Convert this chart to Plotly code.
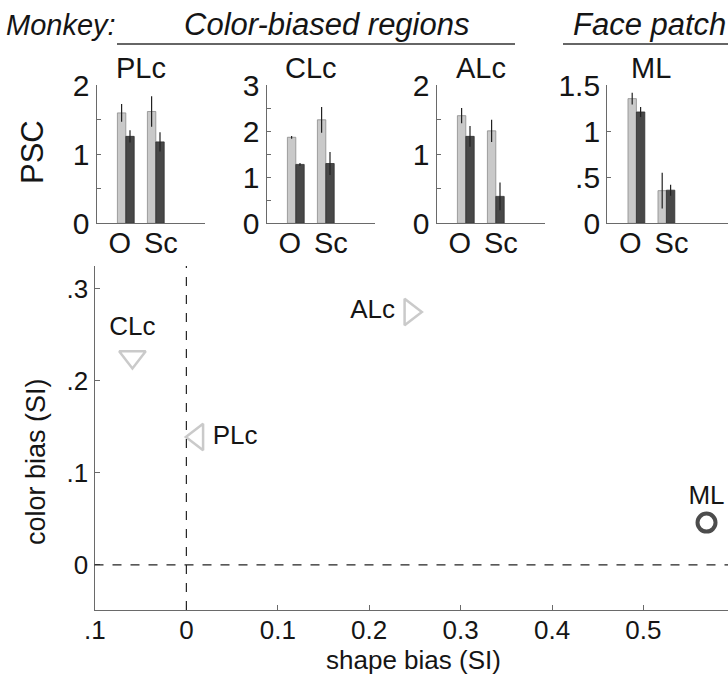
import plotly.graph_objects as go

# ---------------- data ----------------
conditions = ["O", "Sc"]
cond_pos = [1, 2]

plc_light = [1.60, 1.62]
plc_light_err = [0.13, 0.22]
plc_dark = [1.26, 1.18]
plc_dark_err = [0.09, 0.14]

clc_light = [1.87, 2.25]
clc_light_err = [0.03, 0.28]
clc_dark = [1.28, 1.30]
clc_dark_err = [0.03, 0.25]

alc_light = [1.56, 1.34]
alc_light_err = [0.11, 0.16]
alc_dark = [1.26, 0.39]
alc_dark_err = [0.15, 0.20]

ml_light = [1.355, 0.355]
ml_light_err = [0.065, 0.195]
ml_dark = [1.21, 0.36]
ml_dark_err = [0.055, 0.06]

panel_names = ["PLc", "CLc", "ALc", "ML"]
panel_ymax = [2, 3, 2, 1.5]
panel_tickvals = [[0, 0.5, 1, 1.5, 2], [0, 0.5, 1, 1.5, 2, 2.5, 3],
                  [0, 0.5, 1, 1.5, 2], [0, 0.5, 1, 1.5]]
panel_ticktext = [["0", "", "1", "", "2"], ["0", "", "1", "", "2", "", "3"],
                  ["0", "", "1", "", "2"], ["0", ".5", "1", "1.5"]]

scatter_labels = ["CLc", "PLc", "ALc", "ML"]
shape_bias = [-0.059, 0.012, 0.245, 0.569]
color_bias = [0.226, 0.139, 0.275, 0.046]

x_tickvals = [-0.1, 0, 0.1, 0.2, 0.3, 0.4, 0.5]
x_ticktext = [".1", "0", "0.1", "0.2", "0.3", "0.4", "0.5"]
y_tickvals = [0, 0.1, 0.2, 0.3]
y_ticktext = ["0", ".1", ".2", ".3"]

# ---------------- layout helpers ----------------
W, H = 728, 675
FONT = "Liberation Sans, Arial, sans-serif"
TXT = "#151515"
AX = "#6a6a6a"

def px_x(p):
    return p / W

def px_y(p):
    return 1 - p / H

light_sets = [(plc_light, plc_light_err), (clc_light, clc_light_err),
              (alc_light, alc_light_err), (ml_light, ml_light_err)]
dark_sets = [(plc_dark, plc_dark_err), (clc_dark, clc_dark_err),
             (alc_dark, alc_dark_err), (ml_dark, ml_dark_err)]

panel_left = [96.7, 266.7, 436.7, 607.3]
panel_range = [[0.03, 3.65], [0.03, 3.65], [0.03, 3.65], [0.03, 4.05]]
unit_px = 30.0
bar_w = 0.28
label_shift = [-0.2, 0.17]

fig = go.Figure()
layout = {}
annotations = []

for i, name in enumerate(panel_names):
    k = i + 2
    xa, ya = f"x{k}", f"y{k}"
    lv, le = light_sets[i]
    dv, de = dark_sets[i]
    fig.add_trace(go.Bar(x=cond_pos, y=lv, width=bar_w, offset=-bar_w,
                         marker=dict(color="#c9c9c9", line=dict(color="#8a8a8a", width=0.8)),
                         error_y=dict(type="data", array=le, visible=True, thickness=1.2, width=0, color="#222"),
                         xaxis=xa, yaxis=ya, showlegend=False))
    fig.add_trace(go.Bar(x=cond_pos, y=dv, width=bar_w, offset=0,
                         marker=dict(color="#484848", line=dict(color="#303030", width=0.8)),
                         error_y=dict(type="data", array=de, visible=True, thickness=1.2, width=0, color="#222"),
                         xaxis=xa, yaxis=ya, showlegend=False))
    r0, r1 = panel_range[i]
    L = panel_left[i]
    R = min(W, L + (r1 - r0) * unit_px)
    layout[f"xaxis{k}"] = dict(domain=[px_x(L), px_x(R)], range=[r0, r1], anchor=ya,
                               tickvals=[p + s for p, s in zip(cond_pos, label_shift)],
                               ticktext=conditions, ticks="", automargin=False,
                               ticklabelstandoff=-6,
                               showline=True, linecolor=AX, linewidth=1.3,
                               showgrid=False, zeroline=False,
                               tickfont=dict(size=29, color=TXT, family=FONT))
    layout[f"yaxis{k}"] = dict(domain=[px_y(223.3), px_y(85.3)], range=[0, panel_ymax[i]], anchor=xa,
                               tickvals=panel_tickvals[i], ticktext=panel_ticktext[i],
                               ticks="inside", ticklen=4, tickcolor=AX, automargin=False,
                               showline=True, linecolor=AX, linewidth=1.3,
                               showgrid=False, zeroline=False,
                               tickfont=dict(size=30, color=TXT, family=FONT))
    title_x = L + (1.5 - r0) * unit_px
    annotations.append(dict(text=name, xref="paper", yref="paper",
                            x=px_x(title_x), y=px_y(68),
                            showarrow=False, xanchor="center", yanchor="middle",
                            font=dict(size=29, color=TXT, family=FONT)))

# scatter
fig.add_trace(go.Scatter(
    x=shape_bias, y=color_bias, mode="markers+text", text=scatter_labels,
    textposition=["top center", "middle right", "middle left", "top center"],
    textfont=dict(size=26, color=TXT, family=FONT),
    marker=dict(symbol=["triangle-down-open", "triangle-left-open", "triangle-right-open", "circle-open"],
                size=[23, 23, 23, 18],
                color=["#b3b3b3", "#b3b3b3", "#b3b3b3", "#000000"],
                line=dict(width=[2.5, 2.5, 2.5, 4],
                          color=["#b3b3b3", "#b3b3b3", "#b3b3b3", "#000000"])),
    xaxis="x", yaxis="y", showlegend=False, cliponaxis=False))

layout["xaxis"] = dict(domain=[px_x(94.5), 1], range=[-0.1005, 0.5925], anchor="y",
                       tickvals=x_tickvals, ticktext=x_ticktext, ticks="inside", ticklen=5, tickcolor=AX,
                       automargin=False, ticklabelstandoff=-3,
                       showline=True, linecolor=AX, linewidth=1.4, showgrid=False, zeroline=False,
                       tickfont=dict(size=26, color=TXT, family=FONT))
layout["yaxis"] = dict(domain=[px_y(610), px_y(266)], range=[-0.049, 0.325], anchor="x",
                       tickvals=y_tickvals, ticktext=y_ticktext, ticks="inside", ticklen=5, tickcolor=AX,
                       automargin=False,
                       showline=True, linecolor=AX, linewidth=1.4, showgrid=False, zeroline=False,
                       tickfont=dict(size=26, color=TXT, family=FONT))

shapes = [
    dict(type="line", xref="x", yref="y domain", x0=0, x1=0, y0=0, y1=1,
         line=dict(color="#222", width=1.2, dash="dash")),
    dict(type="line", xref="x domain", yref="y", x0=0, x1=1, y0=0, y1=0,
         line=dict(color="#222", width=1.2, dash="dash")),
    dict(type="line", xref="paper", yref="paper", x0=px_x(117), x1=px_x(515), y0=px_y(44), y1=px_y(44),
         line=dict(color="#333", width=1.3)),
    dict(type="line", xref="paper", yref="paper", x0=px_x(563), x1=1, y0=px_y(44), y1=px_y(44),
         line=dict(color="#333", width=1.3)),
]

annotations += [
    dict(text="<i>Monkey:</i>", xref="paper", yref="paper", x=px_x(4), y=px_y(25),
         xanchor="left", yanchor="middle", showarrow=False, font=dict(size=29, color=TXT, family=FONT)),
    dict(text="<i>Color-biased regions</i>", xref="paper", yref="paper", x=px_x(326), y=px_y(25),
         xanchor="center", yanchor="middle", showarrow=False, font=dict(size=31, color=TXT, family=FONT)),
    dict(text="<i>Face patch</i>", xref="paper", yref="paper", x=px_x(728), y=px_y(25),
         xanchor="right", yanchor="middle", showarrow=False, font=dict(size=31, color=TXT, family=FONT)),
    dict(text="PSC", xref="paper", yref="paper", x=px_x(33), y=px_y(152), textangle=-90,
         xanchor="center", yanchor="middle", showarrow=False, font=dict(size=31, color=TXT, family=FONT)),
    dict(text="color bias (SI)", xref="paper", yref="paper", x=px_x(36), y=px_y(462), textangle=-90,
         xanchor="center", yanchor="middle", showarrow=False, font=dict(size=27, color=TXT, family=FONT)),
    dict(text="shape bias (SI)", xref="paper", yref="paper", x=px_x(413), y=px_y(660),
         xanchor="center", yanchor="middle", showarrow=False, font=dict(size=26, color=TXT, family=FONT)),
]

fig.update_layout(width=W, height=H, margin=dict(l=0, r=0, t=0, b=0, pad=0),
                  paper_bgcolor="white", plot_bgcolor="white",
                  barmode="overlay", showlegend=False,
                  shapes=shapes, annotations=annotations, **layout)

fig.write_html("out.html")
